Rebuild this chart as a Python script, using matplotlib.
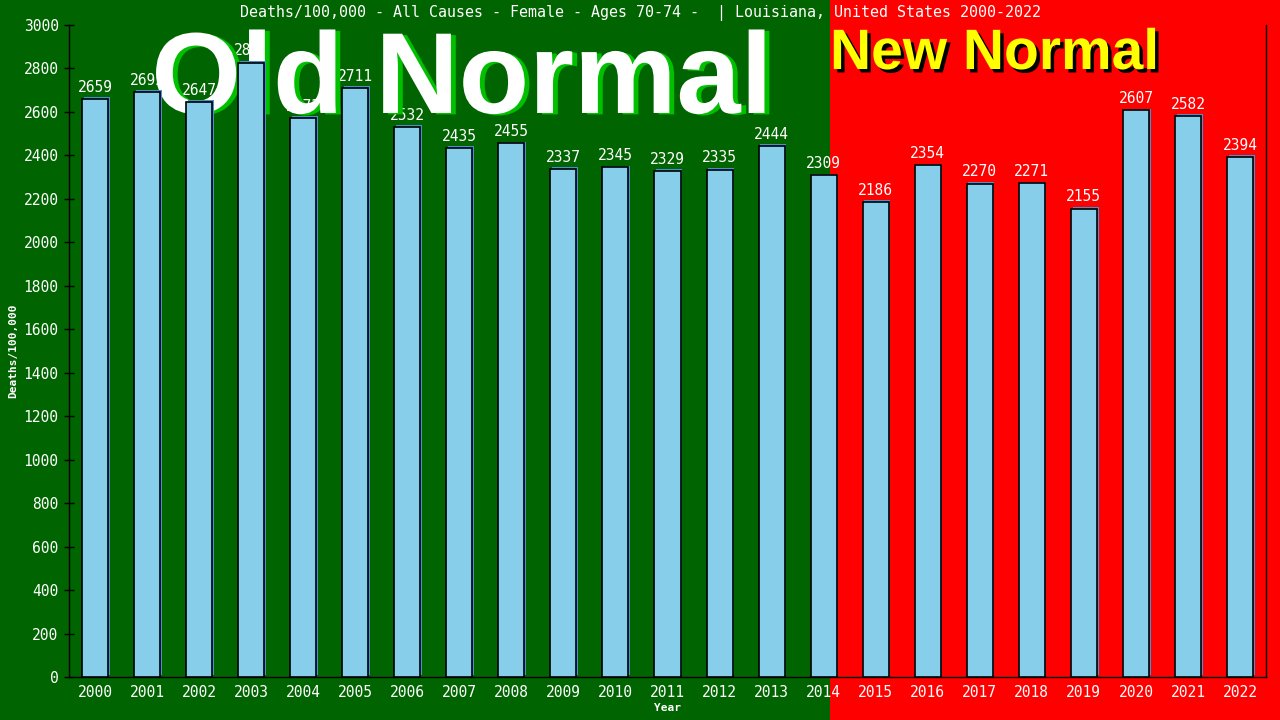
import matplotlib
matplotlib.use("Agg")
import matplotlib.pyplot as plt
import matplotlib.patheffects as pe
from matplotlib.patches import Rectangle

years = [str(y) for y in range(2000, 2023)]
values = [2659, 2692, 2647, 2827, 2573, 2711, 2532, 2435, 2455, 2337, 2345, 2329,
          2335, 2444, 2309, 2186, 2354, 2270, 2271, 2155, 2607, 2582, 2394]
yticks = list(range(0, 3001, 200))

title = "Deaths/100,000 - All Causes - Female - Ages 70-74 -  | Louisiana, United States 2000-2022"

GREEN = "#006400"
RED = "#ff0000"
mono = "DejaVu Sans Mono"

fig = plt.figure(figsize=(12.8, 7.2), dpi=100)
split = 830 / 1280
fig.patches.append(Rectangle((0, 0), split, 1, transform=fig.transFigure,
                             facecolor=GREEN, edgecolor="none", zorder=-10))
fig.patches.append(Rectangle((split, 0), 1 - split, 1, transform=fig.transFigure,
                             facecolor=RED, edgecolor="none", zorder=-10))

ax = fig.add_axes([69 / 1280, 1 - 677 / 720, (1266 - 69) / 1280, (677 - 25) / 720])
ax.patch.set_alpha(0)

x = list(range(len(years)))
bars = ax.bar(x, values, width=0.5, color="#87ceeb", edgecolor="black",
              linewidth=1.2, zorder=5)
for b in bars:
    b.set_path_effects([pe.SimplePatchShadow(offset=(1.2, 1.2), shadow_rgbFace="#4a8fd0", alpha=1),
                        pe.Normal()])

for xi, v in zip(x, values):
    ax.annotate(f"{v}", (xi, v), xytext=(0, 3), textcoords="offset points",
                ha="center", va="bottom", color="white", fontsize=10.5,
                family=mono, zorder=2)

ax.set_xlim(-0.5, 22.5)
ax.set_ylim(0, 3000)
ax.set_yticks(yticks)
ax.set_yticklabels([str(t) for t in yticks], family=mono, fontsize=10.5, color="white")
ax.set_xticks(x)
ax.set_xticklabels(years, family=mono, fontsize=10.5, color="white")
ax.tick_params(axis="x", length=0, pad=6)
ax.tick_params(axis="y", direction="inout", length=7, width=1, color="black", pad=4)
for s in ["left", "bottom", "right"]:
    ax.spines[s].set_color("black")
    ax.spines[s].set_linewidth(1)
ax.spines["top"].set_visible(False)

ax.set_ylabel("Deaths/100,000", family=mono, fontsize=8, fontweight="bold",
              color="white", labelpad=4)
ax.set_xlabel("Year", family=mono, fontsize=8, fontweight="bold",
              color="white", labelpad=2)

fig.text(0.5, 1 - 13 / 720, title, ha="center", va="center", color="white",
         family=mono, fontsize=10.8)

ax.text(462 / 1280, 1 - 113 / 720, "Old Normal", transform=fig.transFigure,
        ha="center", va="baseline", fontsize=83, fontweight="bold",
        family="Liberation Sans", color="white", zorder=3,
        path_effects=[pe.withSimplePatchShadow(offset=(3.5, -1), shadow_rgbFace="#00c000", alpha=1)])
ax.text(830 / 1280, 1 - 69 / 720, "New Normal", transform=fig.transFigure,
        ha="left", va="baseline", fontsize=41, fontweight="bold",
        family="Liberation Sans", color="#ffff00", zorder=3,
        path_effects=[pe.withSimplePatchShadow(offset=(2.5, -2.5), shadow_rgbFace="black", alpha=1)])

fig.savefig("out.png", dpi=100, facecolor=GREEN)
